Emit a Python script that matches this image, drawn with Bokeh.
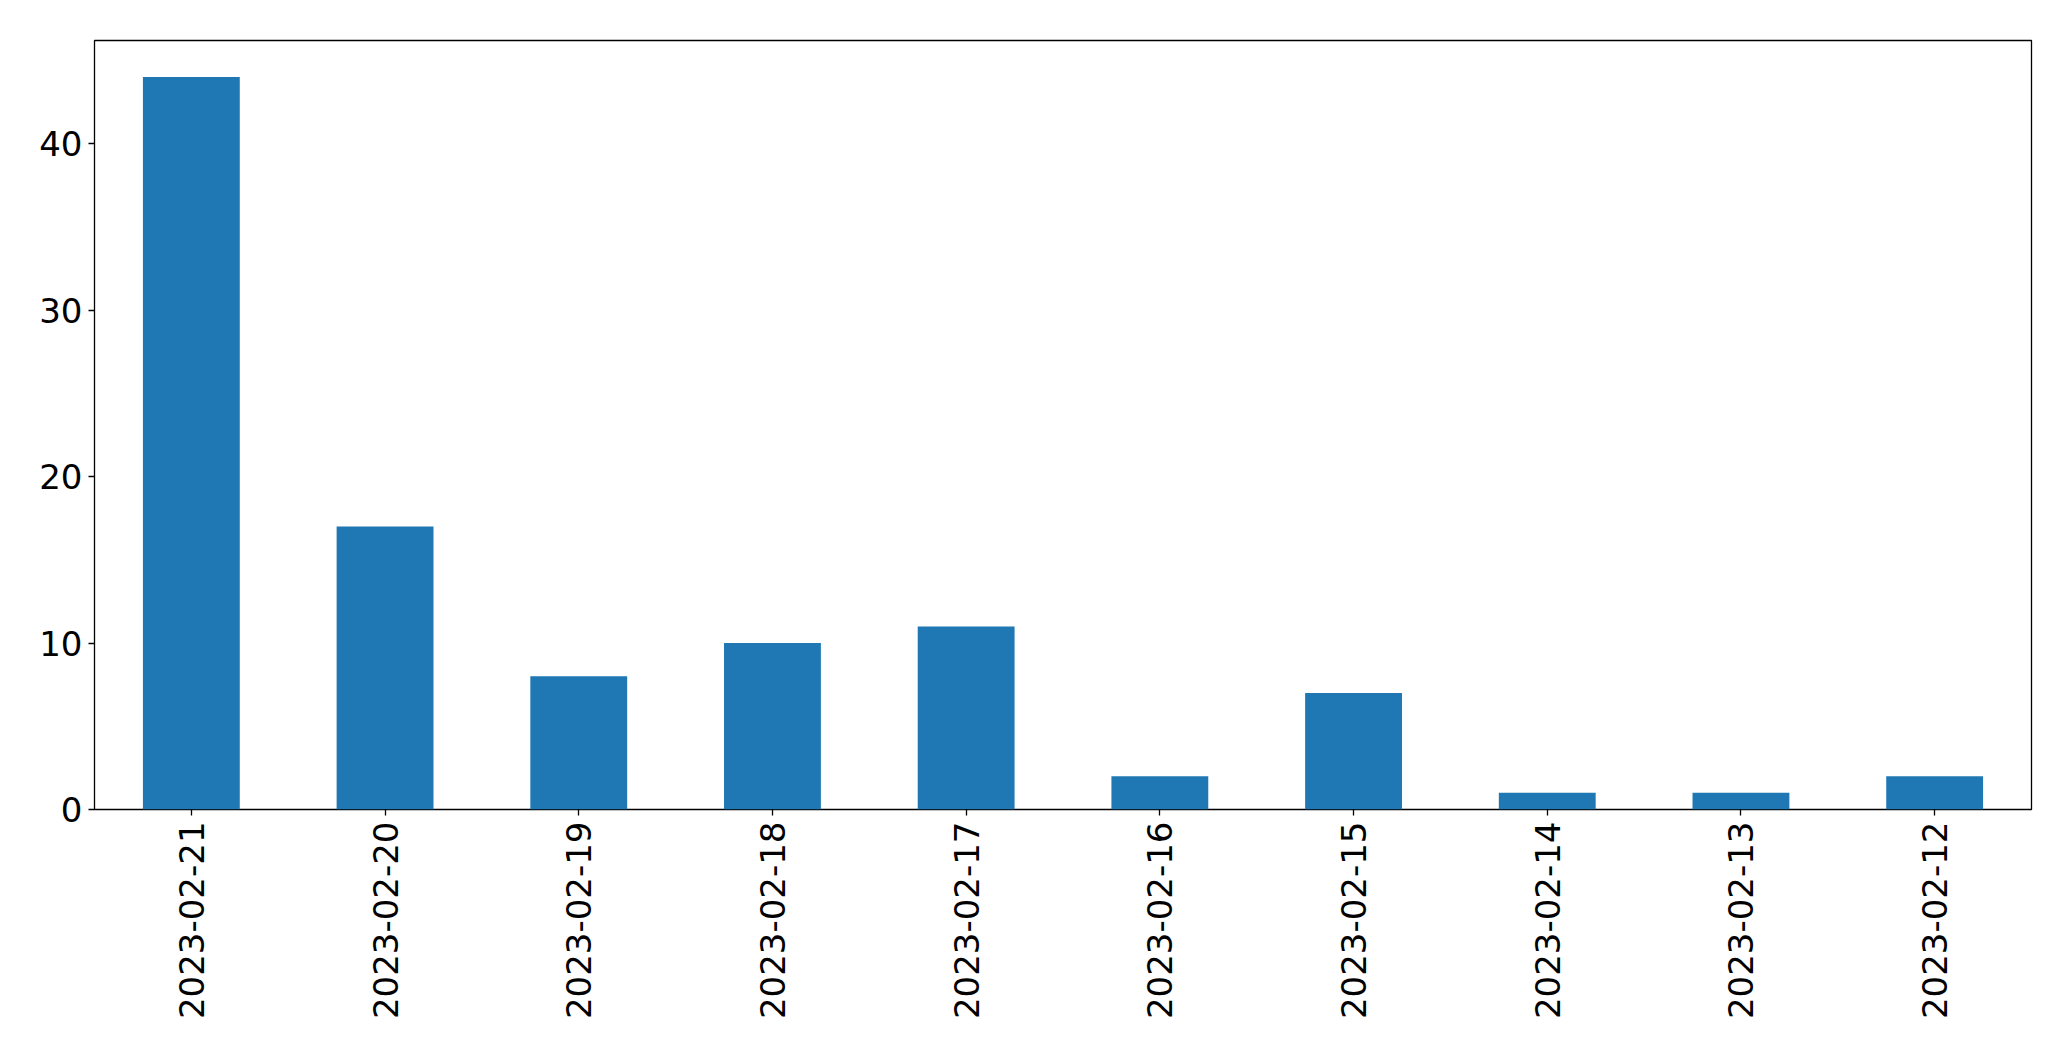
from bokeh.plotting import figure
from bokeh.models import FactorRange, Range1d, FixedTicker, ColumnDataSource
from bokeh.embed import file_html
from bokeh.resources import INLINE
import math

dates = ["2023-02-21", "2023-02-20", "2023-02-19", "2023-02-18", "2023-02-17",
         "2023-02-16", "2023-02-15", "2023-02-14", "2023-02-13", "2023-02-12"]
counts = [44, 17, 8, 10, 11, 2, 7, 1, 1, 2]
y_ticks = [0, 10, 20, 30, 40]

source = ColumnDataSource(data=dict(date=dates, count=counts))

p = figure(
    x_range=FactorRange(*dates, range_padding=0),
    y_range=Range1d(0, max(counts) * 1.05),
    width=2055, height=1045,
    output_backend="svg", toolbar_location=None,
    min_border_left=94, min_border_right=24, min_border_top=40, min_border_bottom=236,
)
p.x_range.range_padding = 0
p.x_range.factor_padding = 0
p.x_range.group_padding = 0

p.vbar(x="date", top="count", width=0.5, source=source,
       fill_color="#1f77b4", line_color=None)

p.xgrid.visible = False
p.ygrid.visible = False
p.outline_line_color = "black"
p.outline_line_width = 1.3
p.background_fill_color = "white"
p.border_fill_color = "white"

for ax in (p.xaxis[0], p.yaxis[0]):
    ax.axis_line_color = None
    ax.major_tick_in = 0
    ax.major_tick_out = 6
    ax.major_tick_line_color = "black"
    ax.major_tick_line_width = 1.3
    ax.minor_tick_line_color = None
    ax.major_label_text_font = "DejaVu Sans"
    ax.major_label_text_font_size = "34px"
    ax.major_label_text_color = "black"
    ax.major_label_standoff = 6

p.yaxis[0].ticker = FixedTicker(ticks=y_ticks)
p.xaxis[0].major_label_orientation = math.pi / 2

open("out.html", "w").write(file_html(p, INLINE))
